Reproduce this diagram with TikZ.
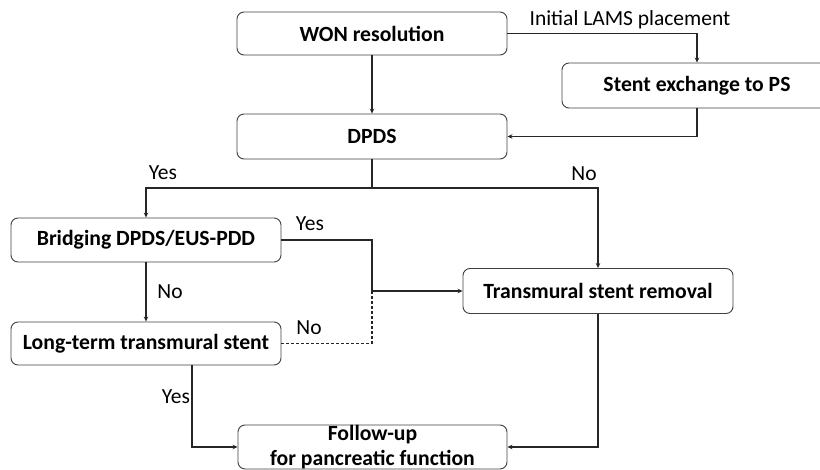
\documentclass[tikz,border=0pt]{standalone}
\usepackage{fontspec}
\setmainfont{Carlito}
\usetikzlibrary{arrows.meta}
\begin{document}
\begin{tikzpicture}[x=1pt,y=-1pt,
  box/.style={draw=black!75,line width=0.9pt,rounded corners=7pt,minimum width=270pt,inner sep=0pt,font=\fontsize{21.7}{25}\selectfont\bfseries,align=center},
  conn/.style={line width=1.2pt,black!85},
  arr/.style={conn,-{Stealth[length=5pt,width=4.5pt]}},
  lbl/.style={font=\fontsize{21.5}{24}\selectfont,inner sep=0pt}]
\useasboundingbox (0,0) rectangle (820,470);
\clip (0,0) rectangle (820,470);
\node[box,minimum height=43pt] (won) at (372,33.5) {WON resolution};
\node[box,minimum height=45pt] (stent) at (697,85.5) {Stent exchange to PS};
\node[box,minimum height=45pt] (dpds) at (372,136.5) {DPDS};
\node[box,minimum height=44pt] (bridge) at (146,240) {Bridging DPDS/EUS-PDD};
\node[box,minimum height=45pt] (trans) at (598,291) {Transmural stent removal};
\node[box,minimum height=43pt] (long) at (146,343.5) {Long-term transmural stent};
\node[box,minimum height=44pt,minimum width=269pt] (follow) at (372.5,447) {Follow-up\\for pancreatic function};
\coordinate (split) at (372,188);
\coordinate (join) at (372,291);
\coordinate (lb) at (192,365);
\draw[arr] (won.east) -| (stent.north);
\draw[arr] (stent.south) |- (dpds.east);
\draw[arr] (won) -- (dpds);
\draw[conn] (dpds.south) -- (split);
\draw[arr] (split) -| (bridge.north);
\draw[arr] (split) -| (trans.north);
\draw[conn] (bridge.east) -| (join);
\draw[arr] (join) -- (trans.west);
\draw[conn,dash pattern=on 3pt off 2pt] (long.east) -| (join);
\draw[arr] (bridge) -- (long);
\draw[arr] (lb) |- (follow.west);
\draw[arr] (trans.south) |- (follow.east);
\node[lbl] (l1) at (630,20) {Initial LAMS placement};
\node[lbl] (l2) at (163,173) {Yes};
\node[lbl] (l3) at (584,174) {No};
\node[lbl] (l4) at (310,224) {Yes};
\node[lbl] (l5) at (170,292) {No};
\node[lbl] (l6) at (309,328) {No};
\node[lbl] (l7) at (176,397) {Yes};
\end{tikzpicture}
\end{document}
